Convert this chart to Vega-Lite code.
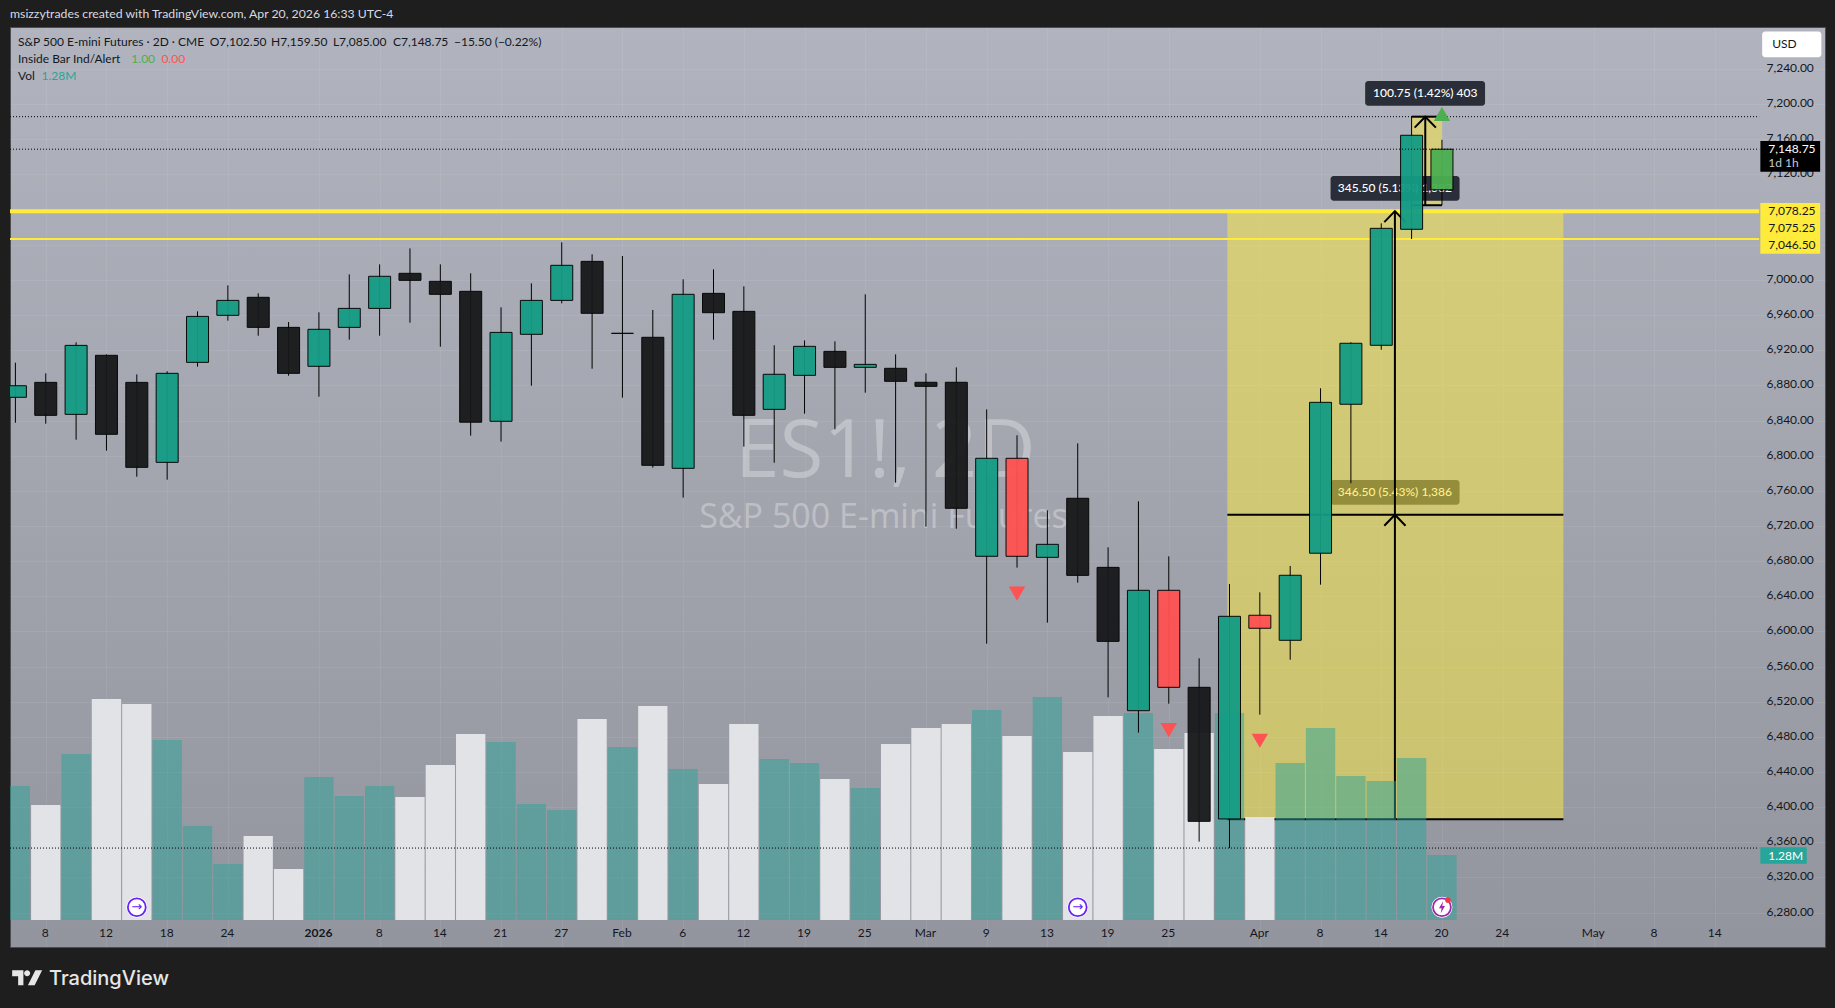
{
  "$schema": "https://vega.github.io/schema/vega-lite/v6.json",
  "width": 1815,
  "height": 920,
  "autosize": "none",
  "padding": {"left": 10, "top": 27, "right": 10, "bottom": 61},
  "background": "#1e1e1e",
  "title": {"text": "msizzytrades created with TradingView.com, Apr 20, 2026 16:33 UTC-4", "anchor": "start", "frame": "group", "offset": 7, "fontSize": 12.25, "fontWeight": "normal", "color": "#d8dae0", "font": "Lato"},
  "config": {
    "view": {"stroke": "#4d4d4f", "strokeWidth": 1, "fill": {"gradient": "linear", "x1": 0, "y1": 0, "x2": 0, "y2": 1, "stops": [{"offset": 0, "color": "#b1b4be"}, {"offset": 1, "color": "#93959e"}]}},
    "text": {"font": "Lato", "fontSize": 12}
  },
  "datasets": {
    "candles": [
      {"bar": 0, "open": 6866.4, "high": 6905.8, "low": 6837.5, "close": 6879.6, "volume": 2.639, "kind": "up"},
      {"bar": 1, "open": 6883.4, "high": 6893.7, "low": 6836.4, "close": 6845.9, "volume": 2.264, "kind": "down"},
      {"bar": 2, "open": 6847.0, "high": 6929.0, "low": 6818.2, "close": 6925.5, "volume": 3.269, "kind": "up"},
      {"bar": 3, "open": 6914.2, "high": 6915.3, "low": 6805.7, "close": 6824.3, "volume": 4.352, "kind": "down"},
      {"bar": 4, "open": 6883.4, "high": 6892.5, "low": 6776.1, "close": 6786.7, "volume": 4.253, "kind": "down"},
      {"bar": 5, "open": 6792.4, "high": 6896.0, "low": 6772.7, "close": 6893.7, "volume": 3.544, "kind": "up"},
      {"bar": 6, "open": 6906.2, "high": 6964.2, "low": 6901.3, "close": 6958.5, "volume": 1.851, "kind": "up"},
      {"bar": 7, "open": 6959.7, "high": 6993.8, "low": 6953.6, "close": 6976.7, "volume": 1.103, "kind": "up"},
      {"bar": 8, "open": 6980.2, "high": 6984.7, "low": 6936.5, "close": 6946.0, "volume": 1.654, "kind": "down"},
      {"bar": 9, "open": 6946.0, "high": 6952.1, "low": 6891.0, "close": 6893.7, "volume": 1.004, "kind": "down"},
      {"bar": 10, "open": 6901.7, "high": 6963.1, "low": 6867.1, "close": 6943.8, "volume": 2.816, "kind": "up"},
      {"bar": 11, "open": 6946.0, "high": 7006.3, "low": 6932.0, "close": 6967.6, "volume": 2.442, "kind": "up"},
      {"bar": 12, "open": 6967.6, "high": 7017.7, "low": 6936.5, "close": 7004.1, "volume": 2.639, "kind": "up"},
      {"bar": 13, "open": 7007.5, "high": 7035.9, "low": 6951.3, "close": 6999.5, "volume": 2.422, "kind": "down"},
      {"bar": 14, "open": 6998.4, "high": 7017.7, "low": 6924.0, "close": 6983.6, "volume": 3.052, "kind": "down"},
      {"bar": 15, "open": 6987.0, "high": 7007.5, "low": 6822.8, "close": 6838.1, "volume": 3.663, "kind": "down"},
      {"bar": 16, "open": 6839.1, "high": 6968.8, "low": 6816.0, "close": 6940.3, "volume": 3.505, "kind": "up"},
      {"bar": 17, "open": 6938.1, "high": 6996.1, "low": 6879.6, "close": 6976.7, "volume": 2.284, "kind": "up"},
      {"bar": 18, "open": 6976.7, "high": 7042.8, "low": 6973.3, "close": 7016.6, "volume": 2.166, "kind": "up"},
      {"bar": 19, "open": 7021.1, "high": 7029.1, "low": 6899.0, "close": 6962.0, "volume": 3.958, "kind": "down"},
      {"bar": 20, "open": 6939.2, "high": 7027.2, "low": 6866.0, "close": 6939.2, "volume": 3.407, "kind": "down"},
      {"bar": 21, "open": 6934.7, "high": 6965.8, "low": 6786.4, "close": 6789.0, "volume": 4.214, "kind": "down"},
      {"bar": 22, "open": 6785.6, "high": 7000.7, "low": 6752.2, "close": 6983.6, "volume": 2.973, "kind": "up"},
      {"bar": 23, "open": 6984.7, "high": 7012.0, "low": 6932.0, "close": 6962.7, "volume": 2.678, "kind": "down"},
      {"bar": 24, "open": 6964.2, "high": 6992.7, "low": 6810.3, "close": 6845.9, "volume": 3.860, "kind": "down"},
      {"bar": 25, "open": 6852.7, "high": 6925.6, "low": 6792.0, "close": 6892.6, "volume": 3.170, "kind": "up"},
      {"bar": 26, "open": 6891.4, "high": 6931.2, "low": 6847.8, "close": 6924.4, "volume": 3.092, "kind": "up"},
      {"bar": 27, "open": 6918.7, "high": 6930.1, "low": 6830.0, "close": 6900.5, "volume": 2.777, "kind": "down"},
      {"bar": 28, "open": 6900.5, "high": 6983.6, "low": 6871.7, "close": 6903.9, "volume": 2.599, "kind": "up"},
      {"bar": 29, "open": 6899.4, "high": 6915.3, "low": 6769.3, "close": 6884.6, "volume": 3.466, "kind": "down"},
      {"bar": 30, "open": 6883.5, "high": 6893.7, "low": 6719.2, "close": 6878.9, "volume": 3.781, "kind": "down"},
      {"bar": 31, "open": 6883.5, "high": 6900.5, "low": 6716.9, "close": 6740.1, "volume": 3.860, "kind": "down"},
      {"bar": 32, "open": 6685.5, "high": 6852.7, "low": 6586.1, "close": 6797.0, "volume": 4.135, "kind": "up"},
      {"bar": 33, "open": 6797.0, "high": 6823.2, "low": 6672.6, "close": 6685.5, "volume": 3.623, "kind": "inside"},
      {"bar": 34, "open": 6684.3, "high": 6737.8, "low": 6610.0, "close": 6699.1, "volume": 4.391, "kind": "up"},
      {"bar": 35, "open": 6751.5, "high": 6814.0, "low": 6655.5, "close": 6663.8, "volume": 3.308, "kind": "down"},
      {"bar": 36, "open": 6672.9, "high": 6695.7, "low": 6525.0, "close": 6588.7, "volume": 4.017, "kind": "down"},
      {"bar": 37, "open": 6509.8, "high": 6748.0, "low": 6484.8, "close": 6646.8, "volume": 4.076, "kind": "up"},
      {"bar": 38, "open": 6646.8, "high": 6685.5, "low": 6517.8, "close": 6536.4, "volume": 3.367, "kind": "inside"},
      {"bar": 39, "open": 6536.4, "high": 6569.4, "low": 6360.8, "close": 6383.9, "volume": 3.682, "kind": "down"},
      {"bar": 40, "open": 6386.6, "high": 6654.0, "low": 6353.5, "close": 6617.2, "volume": 4.076, "kind": "up"},
      {"bar": 41, "open": 6618.4, "high": 6644.5, "low": 6505.3, "close": 6603.6, "volume": 2.028, "kind": "inside"},
      {"bar": 42, "open": 6589.9, "high": 6674.5, "low": 6567.8, "close": 6663.9, "volume": 3.092, "kind": "up"},
      {"bar": 43, "open": 6689.0, "high": 6876.7, "low": 6653.2, "close": 6860.7, "volume": 3.781, "kind": "up"},
      {"bar": 44, "open": 6858.5, "high": 6929.0, "low": 6768.6, "close": 6927.9, "volume": 2.836, "kind": "up"},
      {"bar": 45, "open": 6925.6, "high": 7064.4, "low": 6920.6, "close": 7058.7, "volume": 2.737, "kind": "up"},
      {"bar": 46, "open": 7057.6, "high": 7185.75, "low": 7046.5, "close": 7164.6, "volume": 3.190, "kind": "up"},
      {"bar": 47, "open": 7102.5, "high": 7159.5, "low": 7085, "close": 7148.75, "volume": 1.28, "kind": "last"}
    ]
  },
  "resolve": {"scale": {"y": "independent"}, "axis": {"x": "independent"}},
  "layer": [
    {
      "data": {"values": [
        {"bar": 39.93, "bar2": 51, "top": 7078.25, "bottom": 6386.25},
        {"bar": 46, "bar2": 47, "top": 7185.75, "bottom": 7085}
      ]},
      "mark": {"type": "rect", "color": "#ffeb3b", "opacity": 0.5},
      "encoding": {
        "x": {"field": "bar", "type": "quantitative", "scale": {"domain": [-0.178, 59.62], "nice": false, "zero": false, "padding": 0},
          "axis": {"orient": "bottom", "offset": -27, "title": null, "domain": false, "ticks": false, "labelPadding": 7, "labelOffset": -1, "labelColor": "#131722", "labelFont": "Lato", "labelFontSize": 12, "grid": true, "gridColor": "#ffffff", "gridOpacity": 0.07, "labelOverlap": false,
            "labelFontWeight": {"condition": {"test": "datum.value === 10", "value": "bold"}, "value": "normal"},
            "values": [1, 3, 5, 7, 10, 12, 14, 16, 18, 20, 22, 24, 26, 28, 30, 32, 34, 36, 38, 41, 43, 45, 47, 49, 52, 54, 56],
            "labelExpr": "['8','12','18','24','2026','8','14','21','27','Feb','6','12','19','25','Mar','9','13','19','25','Apr','8','14','20','24','May','8','14'][indexof([1,3,5,7,10,12,14,16,18,20,22,24,26,28,30,32,34,36,38,41,43,45,47,49,52,54,56],datum.value)]"}},
        "x2": {"field": "bar2"},
        "y": {"field": "top", "type": "quantitative", "scale": {"domain": [6240.9, 7287.8], "nice": false, "zero": false},
          "axis": {"orient": "right", "offset": -66, "title": null, "domain": false, "ticks": false, "labelPadding": 7, "labelOffset": -1.5, "labelColor": "#131722", "labelFont": "Lato", "labelFontSize": 12, "grid": true, "gridColor": "#ffffff", "gridOpacity": 0.07, "labelOverlap": false, "format": ",.2f",
            "values": [6280, 6320, 6360, 6400, 6440, 6480, 6520, 6560, 6600, 6640, 6680, 6720, 6760, 6800, 6840, 6880, 6920, 6960, 7000, 7040, 7080, 7120, 7160, 7200, 7240]}},
        "y2": {"field": "bottom"}
      }
    },
    {
      "resolve": {"scale": {"color": "independent"}},
      "layer": [
        {
          "data": {"values": [
            {"text": "ES1!, 2D", "bar": 28.66, "price": 6775.7}
          ]},
          "mark": {"type": "text", "fontSize": 80, "align": "center", "baseline": "alphabetic", "color": "#ffffff", "opacity": 0.3, "font": "Open Sans"},
          "encoding": {
            "x": {"field": "bar", "type": "quantitative", "axis": null},
            "y": {"field": "price", "type": "quantitative", "axis": null, "scale": {"domain": [6240.9, 7287.8], "nice": false, "zero": false}},
            "text": {"field": "text"}
          }
        },
        {
          "data": {"values": [
            {"text": "S&P 500 E-mini Futures", "bar": 28.6, "price": 6717.7}
          ]},
          "mark": {"type": "text", "fontSize": 34, "align": "center", "baseline": "alphabetic", "color": "#ffffff", "opacity": 0.3, "font": "Open Sans"},
          "encoding": {
            "x": {"field": "bar", "type": "quantitative", "axis": null},
            "y": {"field": "price", "type": "quantitative", "axis": null},
            "text": {"field": "text"}
          }
        },
        {
          "data": {"values": [
            {"role": "dark", "bar": 44.47, "bar2": 48.42, "top": 7226.3, "bottom": 7198.2},
            {"role": "dark", "bar": 43.33, "bar2": 47.58, "top": 7118.2, "bottom": 7090.1},
            {"role": "olive", "bar": 43.33, "bar2": 47.58, "top": 6772.3, "bottom": 6744.2}
          ]},
          "mark": {"type": "rect", "cornerRadius": 3},
          "encoding": {
            "x": {"field": "bar", "type": "quantitative", "axis": null},
            "x2": {"field": "bar2"},
            "y": {"field": "top", "type": "quantitative", "axis": null},
            "y2": {"field": "bottom"},
            "color": {"field": "role", "type": "nominal", "legend": null, "scale": {"domain": ["dark", "olive"], "range": ["#2a2e39", "#948d3b"]}}
          }
        },
        {
          "data": {"values": [
            {"text": "100.75 (1.42%) 403", "role": "dark", "bar": 46.45, "price": 7212.3},
            {"text": "345.50 (5.13%) 1,382", "role": "dark", "bar": 45.45, "price": 7104.2},
            {"text": "346.50 (5.43%) 1,386", "role": "olive", "bar": 45.45, "price": 6758.2}
          ]},
          "mark": {"type": "text", "align": "center", "baseline": "middle", "fontWeight": 500},
          "encoding": {
            "x": {"field": "bar", "type": "quantitative", "axis": null},
            "y": {"field": "price", "type": "quantitative", "axis": null},
            "text": {"field": "text"},
            "color": {"field": "role", "type": "nominal", "legend": null, "scale": {"domain": ["dark", "olive"], "range": ["#ffffff", "#fff08a"]}}
          }
        },
        {
          "data": {"values": [
            {"bar": -0.178, "bar2": 57.45, "price": 7078.25}
          ]},
          "mark": {"type": "rule", "color": "#ffeb3b", "strokeWidth": 4},
          "encoding": {
            "x": {"field": "bar", "type": "quantitative", "axis": null},
            "x2": {"field": "bar2"},
            "y": {"field": "price", "type": "quantitative", "axis": null}
          }
        },
        {
          "data": {"values": [
            {"bar": -0.178, "bar2": 57.45, "price": 7046.5}
          ]},
          "mark": {"type": "rule", "color": "#ffeb3b", "strokeWidth": 2},
          "encoding": {
            "x": {"field": "bar", "type": "quantitative", "axis": null},
            "x2": {"field": "bar2"},
            "y": {"field": "price", "type": "quantitative", "axis": null}
          }
        },
        {
          "data": {"values": [
            {"bar": 45.45, "bar2": 45.45, "price": 6386.25, "price2": 7078.25},
            {"bar": 39.93, "bar2": 51, "price": 6732.75, "price2": 6732.75},
            {"bar": 39.93, "bar2": 51, "price": 6386.25, "price2": 6386.25},
            {"bar": 46.45, "bar2": 46.45, "price": 7085, "price2": 7185.75},
            {"bar": 46, "bar2": 47, "price": 7185.75, "price2": 7185.75},
            {"bar": 46, "bar2": 47, "price": 7085, "price2": 7085}
          ]},
          "mark": {"type": "rule", "color": "#000000", "strokeWidth": 2},
          "encoding": {
            "x": {"field": "bar", "type": "quantitative", "axis": null},
            "x2": {"field": "bar2"},
            "y": {"field": "price", "type": "quantitative", "axis": null},
            "y2": {"field": "price2"}
          }
        },
        {
          "data": {"values": [
            {"arrow": "a", "step": 1, "bar": 45.1, "price": 6720.25},
            {"arrow": "a", "step": 2, "bar": 45.45, "price": 6732.75},
            {"arrow": "a", "step": 3, "bar": 45.8, "price": 6720.25},
            {"arrow": "b", "step": 1, "bar": 45.1, "price": 7065.75},
            {"arrow": "b", "step": 2, "bar": 45.45, "price": 7078.25},
            {"arrow": "b", "step": 3, "bar": 45.8, "price": 7065.75},
            {"arrow": "c", "step": 1, "bar": 46.1, "price": 7173.25},
            {"arrow": "c", "step": 2, "bar": 46.45, "price": 7185.75},
            {"arrow": "c", "step": 3, "bar": 46.8, "price": 7173.25}
          ]},
          "mark": {"type": "line", "color": "#000000", "strokeWidth": 2},
          "encoding": {
            "x": {"field": "bar", "type": "quantitative", "axis": null},
            "y": {"field": "price", "type": "quantitative", "axis": null},
            "detail": {"field": "arrow"},
            "order": {"field": "step"}
          }
        }
      ]
    },
    {
      "data": {"name": "candles"},
      "mark": {"type": "bar", "width": 29.3, "orient": "vertical", "clip": true},
      "encoding": {
        "x": {"field": "bar", "type": "quantitative", "axis": null, "scale": {"padding": 0}},
        "y": {"field": "volume", "type": "quantitative", "axis": null, "scale": {"domain": [-0.532, 17.585], "nice": false, "zero": false}},
        "y2": {"datum": 0},
        "color": {"condition": {"test": "datum.close >= datum.open", "value": "rgba(42,163,154,0.5)"}, "value": "#e2e3e6"}
      }
    },
    {
      "resolve": {"scale": {"color": "independent"}},
      "layer": [
        {
          "data": {"name": "candles"},
          "mark": {"type": "rule", "color": "#000000", "strokeWidth": 1, "clip": true},
          "encoding": {
            "x": {"field": "bar", "type": "quantitative", "axis": null},
            "y": {"field": "low", "type": "quantitative", "axis": null, "scale": {"domain": [6240.9, 7287.8], "nice": false, "zero": false}},
            "y2": {"field": "high"}
          }
        },
        {
          "data": {"name": "candles"},
          "mark": {"type": "bar", "width": 22, "orient": "vertical", "stroke": "#000000", "strokeWidth": 1, "opacity": 0.95, "clip": true},
          "encoding": {
            "x": {"field": "bar", "type": "quantitative", "axis": null, "scale": {"padding": 0}},
            "y": {"field": "open", "type": "quantitative", "axis": null},
            "y2": {"field": "close"},
            "color": {"field": "kind", "type": "nominal", "legend": null, "scale": {"domain": ["up", "down", "inside", "last"], "range": ["#149c84", "#17181a", "#ff5252", "#4caf50"]}}
          }
        },
        {
          "data": {"values": [
            {"bar": -0.178, "bar2": 57.45, "price": 7185.75},
            {"bar": -0.178, "bar2": 57.45, "price": 7148.75},
            {"bar": -0.178, "bar2": 57.45, "price": 6353.5}
          ]},
          "mark": {"type": "rule", "color": "#000000", "strokeWidth": 1, "strokeDash": [1, 2]},
          "encoding": {
            "x": {"field": "bar", "type": "quantitative", "axis": null},
            "x2": {"field": "bar2"},
            "y": {"field": "price", "type": "quantitative", "axis": null}
          }
        },
        {
          "data": {"values": [
            {"bar": 33, "price": 6643},
            {"bar": 38, "price": 6487.8},
            {"bar": 41, "price": 6475.6}
          ]},
          "mark": {"type": "point", "shape": "triangle-down", "filled": true, "size": 270, "color": "#ff5252", "opacity": 1},
          "encoding": {
            "x": {"field": "bar", "type": "quantitative", "axis": null},
            "y": {"field": "price", "type": "quantitative", "axis": null}
          }
        },
        {
          "data": {"values": [
            {"bar": 47, "price": 7188.8}
          ]},
          "mark": {"type": "point", "shape": "triangle-up", "filled": true, "size": 270, "color": "#4caf50", "opacity": 1},
          "encoding": {
            "x": {"field": "bar", "type": "quantitative", "axis": null},
            "y": {"field": "price", "type": "quantitative", "axis": null}
          }
        },
        {
          "data": {"values": [
            {"bar": 4, "price": 6286.1},
            {"bar": 35, "price": 6286.1},
            {"bar": 47, "price": 6286.1}
          ]},
          "mark": {"type": "point", "shape": "circle", "filled": true, "size": 440, "color": "#ffffff", "opacity": 1},
          "encoding": {
            "x": {"field": "bar", "type": "quantitative", "axis": null},
            "y": {"field": "price", "type": "quantitative", "axis": null}
          }
        },
        {
          "data": {"values": [
            {"bar": 4, "price": 6286.1, "event": "split"},
            {"bar": 35, "price": 6286.1, "event": "split"},
            {"bar": 47, "price": 6286.1, "event": "earnings"}
          ]},
          "mark": {"type": "point", "shape": "circle", "filled": false, "size": 320, "strokeWidth": 1.8, "opacity": 1},
          "encoding": {
            "x": {"field": "bar", "type": "quantitative", "axis": null},
            "y": {"field": "price", "type": "quantitative", "axis": null},
            "stroke": {"field": "event", "type": "nominal", "legend": null, "scale": {"domain": ["split", "earnings"], "range": ["#6a22f5", "#9c27b0"]}}
          }
        },
        {
          "data": {"values": [
            {"bar": 4, "price": 6286.1, "glyph": "→"},
            {"bar": 35, "price": 6286.1, "glyph": "→"}
          ]},
          "mark": {"type": "text", "font": "DejaVu Sans", "fontSize": 13, "align": "center", "baseline": "middle", "color": "#6a22f5"},
          "encoding": {
            "x": {"field": "bar", "type": "quantitative", "axis": null},
            "y": {"field": "price", "type": "quantitative", "axis": null},
            "text": {"field": "glyph"}
          }
        },
        {
          "data": {"values": [
            {"bar": 47, "price": 6286.1}
          ]},
          "mark": {"type": "point", "filled": true, "size": 144, "color": "#9c27b0", "opacity": 1, "shape": "M.2,-1 L-.5,.15 L-.05,.15 L-.2,1 L.5,-.2 L.05,-.2 Z"},
          "encoding": {
            "x": {"field": "bar", "type": "quantitative", "axis": null},
            "y": {"field": "price", "type": "quantitative", "axis": null}
          }
        },
        {
          "data": {"values": [
            {"bar": 47.2, "price": 6294}
          ]},
          "mark": {"type": "point", "shape": "circle", "filled": true, "size": 30, "color": "#f23645", "opacity": 1},
          "encoding": {
            "x": {"field": "bar", "type": "quantitative", "axis": null},
            "y": {"field": "price", "type": "quantitative", "axis": null}
          }
        },
        {
          "data": {"values": [
            {"role": "yellow", "bar": 57.49, "bar2": 59.46, "top": 7087.5, "bottom": 7029.8},
            {"role": "black", "bar": 57.49, "bar2": 59.46, "top": 7158.1, "bottom": 7123.2},
            {"role": "teal", "bar": 57.49, "bar2": 59.02, "top": 6354.3, "bottom": 6335.6}
          ]},
          "mark": {"type": "rect"},
          "encoding": {
            "x": {"field": "bar", "type": "quantitative", "axis": null},
            "x2": {"field": "bar2"},
            "y": {"field": "top", "type": "quantitative", "axis": null},
            "y2": {"field": "bottom"},
            "color": {"field": "role", "type": "nominal", "legend": null, "scale": {"domain": ["yellow", "black", "teal"], "range": ["#ffeb3b", "#000000", "#26a69a"]}}
          }
        },
        {
          "data": {"values": [
            {"bar": 57.55, "bar2": 59.5, "top": 7282.6, "bottom": 7253.3}
          ]},
          "mark": {"type": "rect", "color": "#ffffff", "cornerRadius": 3},
          "encoding": {
            "x": {"field": "bar", "type": "quantitative", "axis": null},
            "x2": {"field": "bar2"},
            "y": {"field": "top", "type": "quantitative", "axis": null},
            "y2": {"field": "bottom"}
          }
        },
        {
          "data": {"values": [
            {"text": "S&P 500 E-mini Futures · 2D · CME", "role": "ink", "bar": 0.086, "price": 7271},
            {"text": "O7,102.50", "role": "ink", "bar": 6.4, "price": 7271},
            {"text": "H7,159.50", "role": "ink", "bar": 8.42, "price": 7271},
            {"text": "L7,085.00", "role": "ink", "bar": 10.46, "price": 7271},
            {"text": "C7,148.75", "role": "ink", "bar": 12.44, "price": 7271},
            {"text": "−15.50 (−0.22%)", "role": "ink", "bar": 14.45, "price": 7271},
            {"text": "Inside Bar Ind/Alert", "role": "ink", "bar": 0.086, "price": 7251.7},
            {"text": "1.00", "role": "green", "bar": 3.82, "price": 7251.7},
            {"text": "0.00", "role": "red", "bar": 4.81, "price": 7251.7},
            {"text": "Vol", "role": "ink", "bar": 0.086, "price": 7232},
            {"text": "1.28M", "role": "teal", "bar": 0.86, "price": 7232},
            {"text": "7,078.25", "role": "ink", "bar": 57.75, "price": 7078.8},
            {"text": "7,075.25", "role": "ink", "bar": 57.75, "price": 7059.4},
            {"text": "7,046.50", "role": "ink", "bar": 57.75, "price": 7040.1},
            {"text": "7,148.75", "role": "white", "bar": 57.75, "price": 7149.3},
            {"text": "1d 1h", "role": "pale", "bar": 57.75, "price": 7133},
            {"text": "1.28M", "role": "white", "bar": 57.75, "price": 6345},
            {"text": "USD", "role": "ink", "bar": 57.88, "price": 7268}
          ]},
          "mark": {"type": "text", "align": "left", "baseline": "middle"},
          "encoding": {
            "x": {"field": "bar", "type": "quantitative", "axis": null},
            "y": {"field": "price", "type": "quantitative", "axis": null},
            "text": {"field": "text"},
            "color": {"field": "role", "type": "nominal", "legend": null, "scale": {"domain": ["ink", "green", "red", "teal", "white", "pale"], "range": ["#131722", "#4caf50", "#ff5252", "#26a69a", "#ffffff", "#c8cad0"]}}
          }
        },
        {
          "data": {"values": [
            {"text": "TradingView", "bar": 1.107, "price": 6197.7}
          ]},
          "mark": {"type": "text", "font": "Inter", "fontSize": 20, "fontWeight": 500, "align": "left", "baseline": "alphabetic", "color": "#e6e6e6"},
          "encoding": {
            "x": {"field": "bar", "type": "quantitative", "axis": null},
            "y": {"field": "price", "type": "quantitative", "axis": null},
            "text": {"field": "text"}
          }
        },
        {
          "data": {"values": [
            {"bar": 0.387, "price": 6206}
          ]},
          "mark": {"type": "point", "filled": true, "size": 900, "color": "#e6e6e6", "opacity": 1, "shape": "M-1,-.5 L-.25,-.5 L-.25,.5 L-.6,.5 L-.6,-.1 L-1,-.1 Z M-.2,-.3 A.2,.2 0 1 1 .2,-.3 A.2,.2 0 1 1 -.2,-.3 Z M.55,-.5 L1,-.5 L.5,.5 L.05,.5 Z"},
          "encoding": {
            "x": {"field": "bar", "type": "quantitative", "axis": null},
            "y": {"field": "price", "type": "quantitative", "axis": null}
          }
        }
      ]
    }
  ]
}
